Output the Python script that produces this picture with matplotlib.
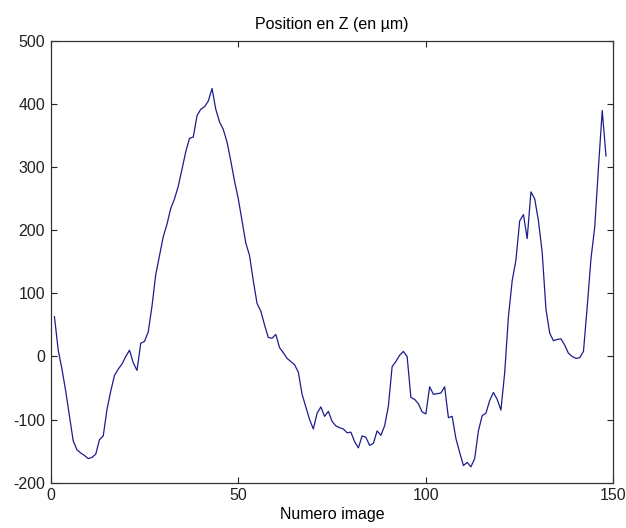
import matplotlib
matplotlib.use("Agg")
import matplotlib.pyplot as plt
import numpy as np

# Position en Z, une valeur par numero d'image (1..148)
image_num = np.arange(1, 149)
z_pos = [
    63, 10, -20, -55, -95, -134, -148, -153, -157, -162,
    -160, -155, -132, -126, -84, -55, -30, -20, -12, 0,
    10, -10, -22, 21, 24, 39, 80, 130, 160, 190,
    210, 235, 250, 270, 297, 325, 346, 348, 382, 392,
    396, 405, 425, 392, 372, 360, 340, 310, 278, 250,
    215, 180, 160, 120, 84, 72, 50, 30, 29, 35,
    14, 6, -3, -8, -13, -25, -60, -80, -100, -115,
    -90, -80, -95, -87, -103, -110, -113, -115, -121, -120,
    -135, -145, -126, -128, -141, -138, -118, -125, -110, -79,
    -16, -8, 2, 8, 0, -65, -68, -75, -88, -91,
    -48, -60, -59, -58, -48, -97, -95, -130, -152, -173,
    -168, -175, -162, -118, -94, -90, -70, -57, -68, -85,
    -26, 63, 120, 153, 215, 225, 187, 261, 250, 215,
    165, 75, 37, 25, 27, 28, 18, 5, 0, -3,
    -2, 8, 79, 155, 205, 300, 390, 318,
]

x_ticks = [0, 50, 100, 150]
y_ticks = [-200, -100, 0, 100, 200, 300, 400, 500]

plt.rcParams["font.family"] = ["Liberation Sans", "DejaVu Sans"]
plt.rcParams["axes.unicode_minus"] = False

fig = plt.figure(figsize=(6.26, 5.28), dpi=100, facecolor="white")
ax = fig.add_axes([0.081, 0.086, 0.899, 0.836])

ax.plot(image_num, z_pos, color="#1c1c8c", linewidth=0.9)

ax.set_xlim(0, 150)
ax.set_ylim(-200, 500)
ax.set_xticks(x_ticks)
ax.set_yticks(y_ticks)
ax.tick_params(direction="in", top=True, right=True, length=4,
               width=0.8, labelsize=11.5, colors="#222222", pad=4)
for spine in ax.spines.values():
    spine.set_linewidth(0.9)
    spine.set_color("#333333")

ax.set_title("Position en Z (en µm)", fontsize=11.5, pad=9)
ax.set_xlabel("Numero image", fontsize=11.5, labelpad=3)

fig.savefig("out.png", dpi=100, facecolor="white")
